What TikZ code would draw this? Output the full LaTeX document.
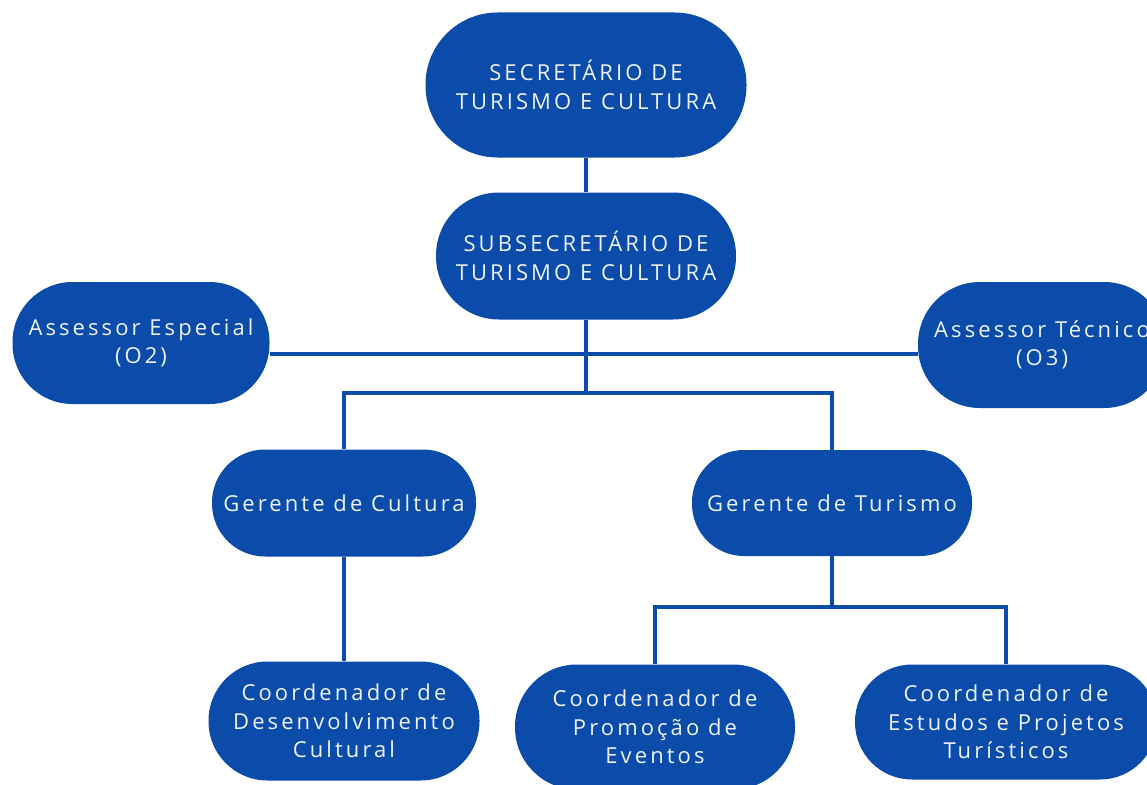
\documentclass[tikz,border=0pt]{standalone}
\usepackage{fontspec}
\setmainfont{Open Sans}[LetterSpace=14,Ligatures=NoCommon]
\definecolor{pillblue}{HTML}{0B4BAA}
\definecolor{txtwhite}{HTML}{EEF2FA}
\begin{document}
\begin{tikzpicture}[x=1pt,y=-1pt,
  pill/.style={fill=pillblue,draw=none,inner sep=0pt,align=center,text=txtwhite,
    font=\fontsize{22}{28.5}\selectfont},
  link/.style={draw=pillblue,line width=3.2pt}]
\useasboundingbox (0,0) rectangle (1147,784);
\fill[white] (0,0) rectangle (1147,784);
\node[pill,minimum width=321pt,minimum height=145pt,rounded corners=72pt] (sec) at (586,85) {SECRETÁRIO DE\\TURISMO E CULTURA};
\node[pill,minimum width=300pt,minimum height=127pt,rounded corners=63pt] (sub) at (586,256) {SUBSECRETÁRIO DE\\TURISMO E CULTURA};
\node[pill,minimum width=257pt,minimum height=122pt,rounded corners=60pt] (ae) at (141,343) {Assessor Especial\\(O2)};
\node[pill,minimum width=248pt,minimum height=126pt,rounded corners=62pt] (at) at (1042,345) {Assessor Técnico\\(O3)};
\node[pill,minimum width=264pt,minimum height=107pt,rounded corners=53pt] (gc) at (344,503) {Gerente de Cultura};
\node[pill,minimum width=280pt,minimum height=106pt,rounded corners=52pt] (gt) at (832,503) {Gerente de Turismo};
\node[pill,minimum width=271pt,minimum height=119pt,rounded corners=59pt] (cd) at (344,721) {Coordenador de\\Desenvolvimento\\Cultural};
\node[pill,minimum width=280pt,minimum height=125pt,rounded corners=62pt] (cp) at (655,727) {Coordenador de\\Promoção de\\Eventos};
\node[pill,minimum width=302pt,minimum height=115pt,rounded corners=57pt] (ce) at (1006,722) {Coordenador de\\Estudos e Projetos\\Turísticos};
\coordinate (j1) at (586,393);
\coordinate (h) at (586,354);
\coordinate (j2) at (832,607);
\draw[link] (sec.south) -- (sub.north);
\draw[link] (sub.south) -- (j1);
\draw[link] (ae.east |- h) -- (at.west |- h);
\draw[link] (gc.north) |- (j1) -| (gt.north);
\draw[link] (gc.south) -- (cd.north);
\draw[link] (gt.south) -- (j2);
\draw[link] (cp.north) |- (j2) -| (ce.north);
\end{tikzpicture}
\end{document}
